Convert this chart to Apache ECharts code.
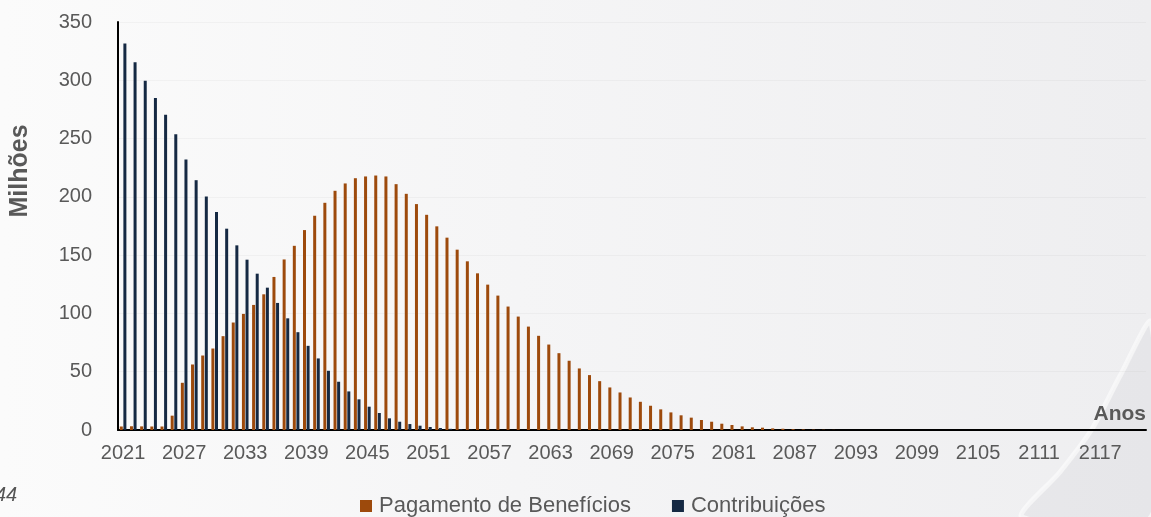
<!DOCTYPE html>
<html>
<head>
<meta charset="utf-8">
<script src="https://cdn.jsdelivr.net/npm/echarts@6/dist/echarts.min.js"></script>
<style>
  html, body { margin: 0; padding: 0; }
  body { width: 1151px; height: 517px; overflow: hidden;
         background: linear-gradient(90deg, #fbfbfb 0%, #f5f5f6 45%, #eeeef0 100%); }
  #chart { width: 1151px; height: 517px; }
</style>
</head>
<body>
<div id="chart"></div>
<script>
// Years on the horizontal axis: 2021 .. 2121
const firstYear = 2021;
const lastYear = 2121;
const years = [];
for (let y = firstYear; y <= lastYear; y++) years.push(String(y));

// Benefit payments, millions per year
const pagamentoBeneficios = [
  3.0, 3.2, 3.1, 3.0, 3.0, 12.3, 40.5, 56.2, 63.9, 69.9,
  80.5, 92.2, 99.6, 107.3, 116.4, 131.3, 146.3, 158.0, 171.5, 183.8,
  194.9, 205.2, 211.5, 216.0, 217.5, 218.3, 217.5, 210.9, 202.6, 193.8,
  184.6, 174.7, 165.0, 154.7, 144.7, 134.4, 124.7, 115.3, 105.9, 97.3,
  88.7, 80.8, 73.3, 65.9, 59.4, 52.8, 47.1, 41.9, 36.5, 32.2,
  27.9, 24.2, 20.8, 17.7, 15.1, 12.6, 10.6, 8.6, 7.1, 5.4,
  4.3, 3.1, 2.3, 2.0, 1.4, 1.1, 0.7, 0.5, 0.3, 0.2,
  0.1, 0, 0, 0, 0, 0, 0, 0, 0, 0,
  0, 0, 0, 0, 0, 0, 0, 0, 0, 0,
  0, 0, 0, 0, 0, 0, 0, 0, 0, 0,
  0
];

// Contributions, millions per year
const contribuicoes = [
  331.6, 315.4, 299.7, 284.8, 270.5, 253.7, 232.0, 214.3, 200.3, 187.0,
  172.7, 158.4, 146.1, 134.1, 122.1, 109.0, 95.8, 83.9, 72.2, 61.4,
  50.8, 41.4, 33.1, 26.3, 20.0, 14.6, 10.0, 7.1, 5.1, 3.7,
  2.6, 1.7, 1.0, 0.6, 0.3, 0, 0, 0, 0, 0,
  0, 0, 0, 0, 0, 0, 0, 0, 0, 0,
  0, 0, 0, 0, 0, 0, 0, 0, 0, 0,
  0, 0, 0, 0, 0, 0, 0, 0, 0, 0,
  0, 0, 0, 0, 0, 0, 0, 0, 0, 0,
  0, 0, 0, 0, 0, 0, 0, 0, 0, 0,
  0, 0, 0, 0, 0, 0, 0, 0, 0, 0,
  0
];

const yMin = 0, yMax = 350, yStep = 50;

const labelGray = '#595959';
const font = '"Liberation Sans", Arial, sans-serif';

const chart = echarts.init(document.getElementById('chart'), null, { renderer: 'canvas' });

chart.setOption({
  backgroundColor: 'transparent',
  animation: false,
  grid: { left: 118, right: 5, top: 22, bottom: 87, containLabel: false },
  legend: {
    left: 355,
    top: 490,
    itemWidth: 12,
    itemHeight: 12,
    itemGap: 41,
    icon: 'rect',
    textStyle: { color: labelGray, fontSize: 22, fontFamily: font, padding: [0, 0, 0, 2] },
    data: ['Pagamento de Benefícios', 'Contribuições']
  },
  xAxis: {
    type: 'category',
    data: years,
    boundaryGap: true,
    axisLine: { lineStyle: { color: '#000', width: 2 } },
    axisTick: { show: false },
    axisLabel: { interval: 5, color: labelGray, fontSize: 20, fontFamily: font, margin: 13 },
    splitLine: { show: false }
  },
  yAxis: {
    type: 'value',
    min: yMin,
    max: yMax,
    interval: yStep,
    axisLine: { show: true, lineStyle: { color: '#000', width: 2 } },
    axisTick: { show: false },
    axisLabel: { color: labelGray, fontSize: 20, fontFamily: font, margin: 26 },
    splitLine: { show: true, lineStyle: { color: 'rgba(0,0,0,0.03)', width: 1 } }
  },
  series: [
    {
      name: 'Pagamento de Benefícios',
      type: 'bar',
      data: pagamentoBeneficios,
      barWidth: 3,
      barGap: '20%',
      itemStyle: { color: '#9d4a0c' }
    },
    {
      name: 'Contribuições',
      type: 'bar',
      data: contribuicoes,
      barWidth: 3,
      barGap: '20%',
      itemStyle: { color: '#152943' }
    }
  ],
  graphic: [
    {
      // soft curved panel in the lower-right corner of the slide
      type: 'polygon',
      silent: true,
      z: -10,
      shape: {
        points: [[1151, 322], [1121, 374], [1092, 429], [1060, 472], [1022, 517], [1151, 517]],
        smooth: 0.25
      },
      style: { fill: 'rgba(195,195,200,0.16)', stroke: 'rgba(255,255,255,0.55)', lineWidth: 5 }
    },
    {
      type: 'text',
      silent: true,
      x: 20,
      y: 171,
      rotation: Math.PI / 2,
      style: {
        text: 'Milhões',
        fill: labelGray,
        font: 'bold 25px ' + font,
        align: 'center',
        verticalAlign: 'middle'
      }
    },
    {
      type: 'text',
      silent: true,
      x: 1146,
      y: 425,
      style: {
        text: 'Anos',
        fill: labelGray,
        font: 'bold 21px ' + font,
        align: 'right',
        verticalAlign: 'bottom'
      }
    },
    {
      type: 'text',
      silent: true,
      x: -5,
      y: 495,
      style: {
        text: '44',
        fill: '#555',
        font: 'italic 20px ' + font,
        align: 'left',
        verticalAlign: 'middle'
      }
    }
  ]
});
</script>
</body>
</html>
